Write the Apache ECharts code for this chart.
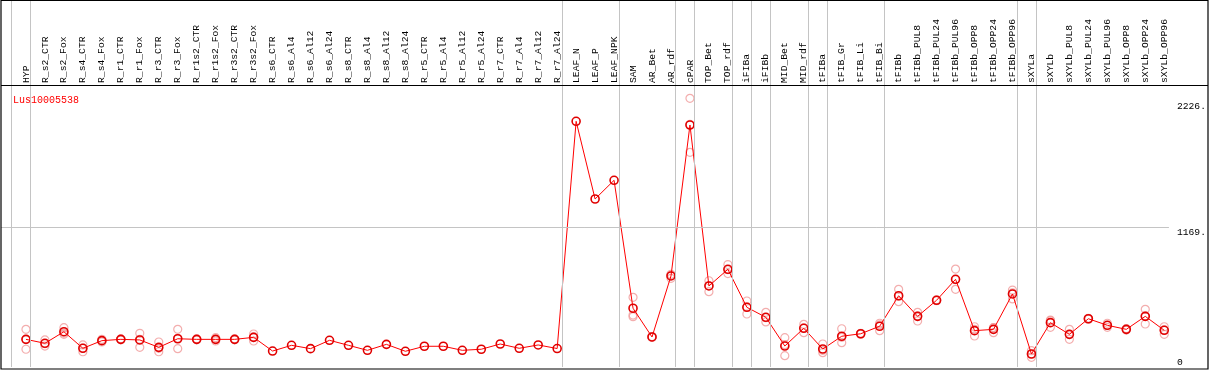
<!DOCTYPE html>
<html>
<head>
<meta charset="utf-8">
<script src="https://cdn.jsdelivr.net/npm/echarts@6/dist/echarts.min.js"></script>
<style>
html,body{margin:0;padding:0;background:#fff;}
#chart{width:1209px;height:370px;}
</style>
</head>
<body>
<div id="chart"></div>
<script>
const seriesName = 'Lus10005538';
const categories = ['HYP','R_s2_CTR','R_s2_Fox','R_s4_CTR','R_s4_Fox','R_r1_CTR','R_r1_Fox','R_r3_CTR','R_r3_Fox',
 'R_r1s2_CTR','R_r1s2_Fox','R_r3s2_CTR','R_r3s2_Fox','R_s6_CTR','R_s6_Al4','R_s6_Al12','R_s6_Al24',
 'R_s8_CTR','R_s8_Al4','R_s8_Al12','R_s8_Al24','R_r5_CTR','R_r5_Al4','R_r5_Al12','R_r5_Al24',
 'R_r7_CTR','R_r7_Al4','R_r7_Al12','R_r7_Al24','LEAF_N','LEAF_P','LEAF_NPK','SAM','AR_Bet','AR_rdf',
 'cPAR','TOP_Bet','TOP_rdf','iFIBa','iFIBb','MID_Bet','MID_rdf','tFIBa','tFIB_Gr','tFIB_Li','tFIB_Bi',
 'tFIBb','tFIBb_PUL8','tFIBb_PUL24','tFIBb_PUL96','tFIBb_OPP8','tFIBb_OPP24','tFIBb_OPP96',
 'sXYLa','sXYLb','sXYLb_PUL8','sXYLb_PUL24','sXYLb_PUL96','sXYLb_OPP8','sXYLb_OPP24','sXYLb_OPP96'];
const meanValues = [232,199,296,157,221,232,227,165,237,232,232,232,249,134,182,154,224,182,140,190,132,
 174,174,140,149,193,157,185,155,2062,1410,1567,493,252,764,2031,680,820,501,417,176,325,151,258,279,342,
 598,425,560,736,305,316,613,109,372,274,405,350,316,425,308];
const rep1 = [316,227,330,185,232,236,283,210,316,236,246,236,277,null,null,null,null,null,null,null,null,
 null,null,null,null,null,null,null,null,null,null,null,585,256,778,2255,724,860,554,459,246,358,193,321,283,367,
 652,459,564,822,338,330,646,137,394,316,409,367,322,484,338];
const rep2 = [149,176,274,128,210,228,165,128,154,228,218,228,218,null,null,null,null,null,null,null,null,
 null,null,null,null,null,null,null,null,null,null,null,436,248,744,1802,632,784,445,378,95,288,120,204,275,305,
 548,386,556,652,260,288,571,81,333,232,401,333,310,361,274];
const rep3 = [232,195,285,158,221,232,232,157,241,232,232,232,252,null,null,null,null,null,null,null,null,
 null,null,null,null,null,null,null,null,null,null,null,422,252,770,2036,684,816,504,414,187,329,140,249,279,354,
 594,430,560,734,317,330,622,109,389,274,405,350,316,430,312];
const groupEnds = [-1,0,28,31,34,35,37,38,39,41,42,45,52,53,60];
const yTickValues = [1169,2226];
const yMinTick = [0];

const repData = [];
[rep1, rep2, rep3].forEach(r => r.forEach((v, i) => { if (v != null) repData.push([i, v]); }));
const meanData = meanValues.map((v, i) => [i, v]);

const chart = echarts.init(document.getElementById('chart'), null, {renderer: 'canvas'});
const mono = 'Liberation Mono';
const yMax = 3080;
chart.setOption({
  animation: false,
  backgroundColor: '#fff',
  title: {text: seriesName, left: 8, top: 90, textStyle: {color: '#ff0000', fontFamily: mono, fontSize: 10, fontWeight: 'normal'}},
  grid: {left: 1, right: 38.3, top: 0, bottom: 3, containLabel: false},
  xAxis: {
    type: 'value', position: 'top', offset: -85,
    min: -25/19, max: 60 + 4.7/19,
    axisLine: {show: false}, axisTick: {show: false}, splitLine: {show: false},
    axisLabel: {
      customValues: categories.map((c, i) => i),
      rotate: 90, margin: 2, fontFamily: mono, fontSize: 9.7, color: '#000',
      formatter: v => categories[Math.round(v)] || ''
    }
  },
  yAxis: [{
    type: 'value', position: 'right', min: 0, max: yMax,
    axisLine: {show: false}, axisTick: {show: false}, splitLine: {show: false},
    axisLabel: {customValues: yTickValues, margin: 8, verticalAlign: 'top', fontFamily: mono, fontSize: 9.7, color: '#000',
      formatter: v => v + '.'}
  }, {
    type: 'value', position: 'right', min: 0, max: yMax,
    axisLine: {show: false}, axisTick: {show: false}, splitLine: {show: false},
    axisLabel: {customValues: yMinTick, margin: 8, verticalAlign: 'bottom', fontFamily: mono, fontSize: 9.7, color: '#000',
      formatter: v => String(v)}
  }],
  series: [{
    type: 'scatter', data: repData, symbol: 'circle', symbolSize: 8, z: 2,
    itemStyle: {color: 'rgba(0,0,0,0)', borderColor: '#f09a9a', borderWidth: 1.2},
    markLine: {
      silent: true, symbol: ['none','none'], label: {show: false},
      lineStyle: {color: '#c4c4c4', width: 1, type: 'solid'},
      data: groupEnds.map(e => ({xAxis: e + 4.7/19})).concat([{yAxis: 1169}])
    }
  }, {
    type: 'line', data: meanData, symbol: 'circle', symbolSize: 8, z: 3,
    lineStyle: {color: '#ff0000', width: 1},
    itemStyle: {color: 'rgba(0,0,0,0)', borderColor: '#e00000', borderWidth: 1.6}
  }],
  graphic: [
    {type: 'rect', shape: {x: 1, y: 0.5, width: 1207, height: 368.5}, style: {fill: 'none', stroke: '#000', lineWidth: 1.2}, z: 10},
    {type: 'line', shape: {x1: 1, y1: 85.5, x2: 1208, y2: 85.5}, style: {stroke: '#000', lineWidth: 1.2}, z: 10}
  ]
});
</script>
</body>
</html>
